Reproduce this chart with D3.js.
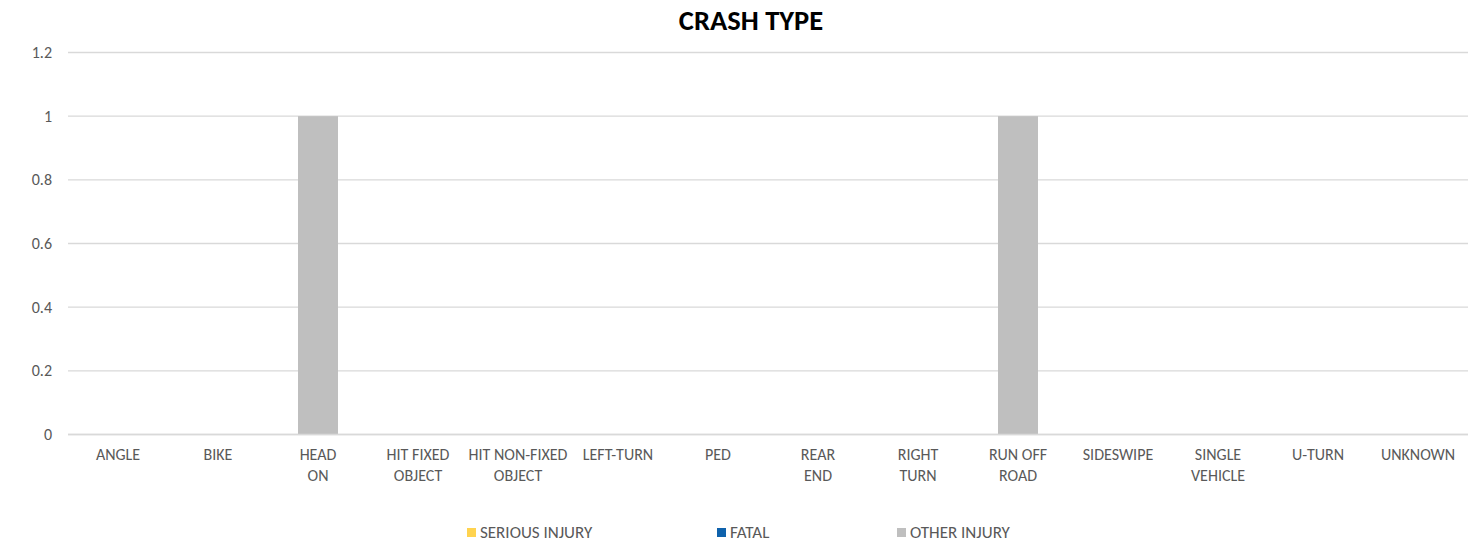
<!DOCTYPE html>
<html><head><meta charset="utf-8">
<script src="https://cdn.jsdelivr.net/npm/d3@7"></script>
<style>body{margin:0;background:#fff;} text{font-family:Carlito,Calibri,"Open Sans",sans-serif;}</style>
</head><body><svg id="c" width="1479" height="544"></svg>
<script>
const categories = ["ANGLE","BIKE","HEAD ON","HIT FIXED OBJECT","HIT NON-FIXED OBJECT","LEFT-TURN","PED","REAR END","RIGHT TURN","RUN OFF ROAD","SIDESWIPE","SINGLE VEHICLE","U-TURN","UNKNOWN"];
const categoryLines = [["ANGLE"],["BIKE"],["HEAD","ON"],["HIT FIXED","OBJECT"],["HIT NON-FIXED","OBJECT"],["LEFT-TURN"],["PED"],["REAR","END"],["RIGHT","TURN"],["RUN OFF","ROAD"],["SIDESWIPE"],["SINGLE","VEHICLE"],["U-TURN"],["UNKNOWN"]];
const seriesNames = ["SERIOUS INJURY","FATAL","OTHER INJURY"];
const seriousInjury = [0,0,0,0,0,0,0,0,0,0,0,0,0,0];
const fatal = [0,0,0,0,0,0,0,0,0,0,0,0,0,0];
const otherInjury = [0,0,1,0,0,0,0,0,0,1,0,0,0,0];
const yTicks = [0,0.2,0.4,0.6,0.8,1,1.2];
const colors = ["#FFD34F","#0F62AC","#BFBFBF"];

const svg = d3.select("#c");
const m = {l:68, r:11, t:52.5, b:109.5};
const W = 1479, H = 544;
const x = d3.scaleBand().domain(categories).range([m.l, W-m.r]).paddingInner(0.6).paddingOuter(0.3);
const y = d3.scaleLinear().domain([0,1.2]).range([H-m.b, m.t]);

// gridlines
svg.append("g").selectAll("line").data(yTicks).join("line")
  .attr("x1", m.l).attr("x2", W-m.r)
  .attr("y1", d=>y(d)).attr("y2", d=>y(d))
  .attr("stroke","#D9D9D9").attr("stroke-width",1.3);

// y labels
const yAxis = d3.axisLeft(y).tickValues(yTicks).tickSize(0).tickPadding(0).tickFormat(d=>String(d));
const ya = svg.append("g").attr("transform",`translate(${m.l-16},0)`).call(yAxis);
ya.select(".domain").remove();
ya.selectAll("text").attr("font-size",16).attr("fill","#595959").style("font-family","Carlito,Calibri,'Open Sans',sans-serif");

// data table
const rows = categories.map((c,i)=>({cat:c, "SERIOUS INJURY":seriousInjury[i], "FATAL":fatal[i], "OTHER INJURY":otherInjury[i]}));
const stacked = d3.stack().keys(seriesNames)(rows);
svg.append("g").selectAll("g").data(stacked).join("g")
  .attr("fill",(d,i)=>colors[i])
  .selectAll("rect").data(d=>d.filter(p=>p[1]-p[0]>0)).join("rect")
  .attr("x", d=>x(d.data.cat))
  .attr("width", x.bandwidth())
  .attr("y", d=>y(d[1]))
  .attr("height", d=>y(d[0])-y(d[1]));

// zero line on top
svg.append("line").attr("x1",m.l).attr("x2",W-m.r).attr("y1",y(0)).attr("y2",y(0)).attr("stroke","#D9D9D9").attr("stroke-width",1.3);

// x labels
const xl = svg.append("g");
categories.forEach((c,i)=>{
  const t = xl.append("text").attr("text-anchor","middle").attr("font-size",16).attr("fill","#595959")
    .attr("x", x(c)+x.bandwidth()/2).attr("y", 460);
  categoryLines[i].forEach((ln,j)=>{
    t.append("tspan").attr("x", x(c)+x.bandwidth()/2).attr("dy", j===0?0:20.5).text(ln);
  });
});

// title
svg.append("text").attr("x",751).attr("y",30).attr("text-anchor","middle")
  .attr("font-size",28.5).attr("font-weight","bold").attr("fill","#000").text("CRASH TYPE");

// legend
const legX = [467,717,897];
const lg = svg.append("g");
seriesNames.forEach((s,i)=>{
  lg.append("rect").attr("x",legX[i]).attr("y",528).attr("width",9).attr("height",9).attr("fill",colors[i]);
  lg.append("text").attr("x",legX[i]+13).attr("y",538).attr("font-size",17).attr("fill","#595959").text(s);
});
</script></body></html>
